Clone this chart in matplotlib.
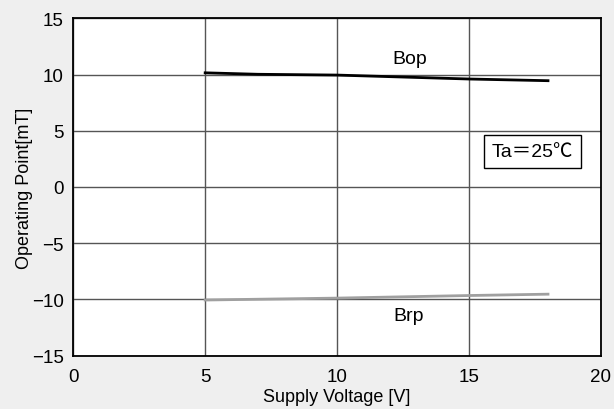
import matplotlib
matplotlib.use('Agg')
import matplotlib.pyplot as plt

plt.rcParams['font.family'] = ['Liberation Sans', 'Noto Sans CJK JP', 'DejaVu Sans']

# supply voltage [V] vs. operating points [mT]
voltage = [5, 7, 10, 15, 18]
bop = [10.15, 10.02, 9.95, 9.6, 9.45]
brp = [-10.05, -9.98, -9.88, -9.65, -9.53]

x_ticks = [0, 5, 10, 15, 20]
y_ticks = [-15, -10, -5, 0, 5, 10, 15]

bg = '#efefef'

fig = plt.figure(figsize=(6.14, 4.10), dpi=100, facecolor=bg)
ax = fig.add_axes([0.1194, 0.130, 0.859, 0.823])
ax.set_facecolor('white')

ax.plot(voltage, bop, color='black', lw=2.0, zorder=3)
ax.plot(voltage, brp, color='#a0a0a0', lw=2.0, zorder=3)

ax.set_xlim(0, 20)
ax.set_ylim(-15, 15)
ax.set_xticks(x_ticks)
ax.set_yticks(y_ticks)
ax.set_yticklabels(['\u221215', '\u221210', '\u22125', '0', '5', '10', '15'])
ax.grid(True, color='#555555', lw=1.0, zorder=1)
ax.tick_params(axis='x', length=0, labelsize=13.5, pad=9)
ax.tick_params(axis='y', length=0, labelsize=13.5, pad=7)
for s in ax.spines.values():
    s.set_color('black')
    s.set_linewidth(1.3)

ax.set_xlabel('Supply Voltage [V]', fontsize=13, labelpad=2)
ax.set_ylabel('Operating Point[mT]', fontsize=13, labelpad=-1)

ax.text(12.75, 11.4, 'Bop', ha='center', va='center', fontsize=14)
ax.text(12.7, -11.4, 'Brp', ha='center', va='center', fontsize=14)

ax.text(17.4, 3.15, 'Ta\uff1d25\u2103', ha='center', va='center', fontsize=14,
        bbox=dict(boxstyle='square,pad=0.4', fc='white', ec='black', lw=1.0), zorder=4)

plt.savefig('out.png', dpi=100, facecolor=bg)
